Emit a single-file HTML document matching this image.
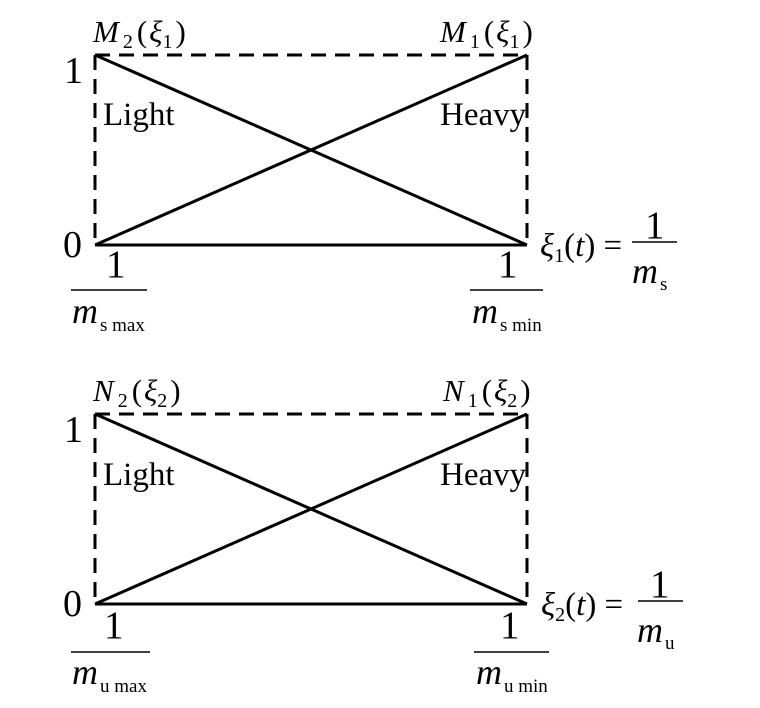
<!DOCTYPE html>
<html><head><meta charset="utf-8"><style>
html,body{margin:0;padding:0;background:#fff;}
svg{display:block;}
text{font-family:"Liberation Serif",serif;fill:#000;}
.i{font-style:italic;}
</style></head><body>
<svg width="760" height="708" viewBox="0 0 760 708">
<g id="top">
<path d="M95 55 H527 M95 55 V245 M527 55 V245" stroke="#000" stroke-width="3" fill="none" stroke-dasharray="15,9"/>
<path d="M95 245 H527 M95 55 L527 245 M95 245 L527 55" stroke="#000" stroke-width="3" fill="none"/>
<text x="93" y="42" font-size="31"><tspan class="i">M</tspan><tspan font-size="20" dx="4" dy="6">2</tspan><tspan dx="4" dy="-6">(</tspan><tspan class="i" dx="2">ξ</tspan><tspan font-size="20" dy="6">1</tspan><tspan dx="3" dy="-6">)</tspan></text>
<text x="440" y="42" font-size="31"><tspan class="i">M</tspan><tspan font-size="20" dx="4" dy="6">1</tspan><tspan dx="4" dy="-6">(</tspan><tspan class="i" dx="2">ξ</tspan><tspan font-size="20" dy="6">1</tspan><tspan dx="3" dy="-6">)</tspan></text>
<text x="64" y="83" font-size="38">1</text>
<text x="63" y="257" font-size="38">0</text>
<text x="103" y="125" font-size="33">Light</text>
<text x="440" y="125" font-size="33">Heavy</text>
<text x="106" y="277" font-size="39">1</text>
<line x1="71" y1="290" x2="147" y2="290" stroke="#000" stroke-width="1.5"/>
<text x="72" y="323" font-size="36" class="i">m</text><text x="100" y="331" font-size="19">s max</text>
<text x="498" y="277" font-size="39">1</text>
<line x1="470" y1="290" x2="543" y2="290" stroke="#000" stroke-width="1.5"/>
<text x="472" y="323" font-size="36" class="i">m</text><text x="500" y="331" font-size="19">s min</text>
<text x="540" y="256" font-size="33"><tspan class="i">ξ</tspan><tspan font-size="20" dy="6">1</tspan><tspan dy="-6">(</tspan><tspan class="i">t</tspan><tspan>) =</tspan></text>
<text x="645" y="238" font-size="39">1</text>
<line x1="632" y1="242" x2="677" y2="242" stroke="#000" stroke-width="1.5"/>
<text x="632" y="283" font-size="36" class="i">m</text><text x="660" y="290" font-size="19">s</text>
</g>
<g id="bot">
<path d="M95 414 H527 M95 414 V604 M527 414 V604" stroke="#000" stroke-width="3" fill="none" stroke-dasharray="15,9"/>
<path d="M95 604 H527 M95 414 L527 604 M95 604 L527 414" stroke="#000" stroke-width="3" fill="none"/>
<text x="93" y="401" font-size="31"><tspan class="i">N</tspan><tspan font-size="20" dx="4" dy="6">2</tspan><tspan dx="4" dy="-6">(</tspan><tspan class="i" dx="2">ξ</tspan><tspan font-size="20" dy="6">2</tspan><tspan dx="3" dy="-6">)</tspan></text>
<text x="443" y="401" font-size="31"><tspan class="i">N</tspan><tspan font-size="20" dx="4" dy="6">1</tspan><tspan dx="4" dy="-6">(</tspan><tspan class="i" dx="2">ξ</tspan><tspan font-size="20" dy="6">2</tspan><tspan dx="3" dy="-6">)</tspan></text>
<text x="64" y="442" font-size="38">1</text>
<text x="63" y="616" font-size="38">0</text>
<text x="103" y="485" font-size="33">Light</text>
<text x="440" y="485" font-size="33">Heavy</text>
<text x="104" y="638" font-size="39">1</text>
<line x1="71" y1="652" x2="150" y2="652" stroke="#000" stroke-width="1.5"/>
<text x="72" y="684" font-size="36" class="i">m</text><text x="100" y="692" font-size="19">u max</text>
<text x="500" y="638" font-size="39">1</text>
<line x1="474" y1="652" x2="549" y2="652" stroke="#000" stroke-width="1.5"/>
<text x="476" y="684" font-size="36" class="i">m</text><text x="504" y="692" font-size="19">u min</text>
<text x="541" y="615" font-size="33"><tspan class="i">ξ</tspan><tspan font-size="20" dy="6">2</tspan><tspan dy="-6">(</tspan><tspan class="i">t</tspan><tspan>) =</tspan></text>
<text x="650" y="597" font-size="39">1</text>
<line x1="638" y1="601" x2="683" y2="601" stroke="#000" stroke-width="1.5"/>
<text x="637" y="642" font-size="36" class="i">m</text><text x="665" y="649" font-size="19">u</text>
</g>
</svg>
</body></html>
